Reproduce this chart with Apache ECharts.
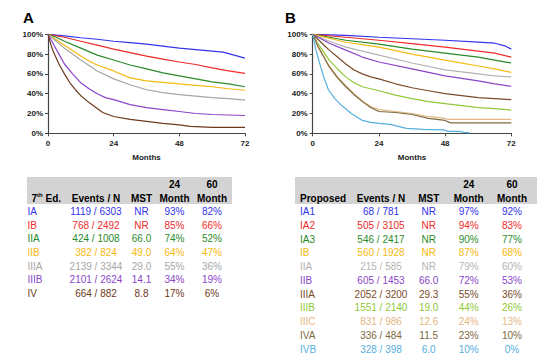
<!DOCTYPE html>
<html><head><meta charset="utf-8">
<script src="https://cdn.jsdelivr.net/npm/echarts@6/dist/echarts.min.js"></script>
<style>html,body{margin:0;padding:0;background:#fff}#c{width:554px;height:361px}</style>
</head><body><div id="c"></div>
<script>
// ---- Panel A survival curves (month, % surviving) ----
const A_IA   = [[0,100],[6,98.5],[12,96.5],[18,95],[24,93],[30,91.5],[36,90],[42,88],[48,86],[54,84.5],[60,83],[64,82],[68,79],[72,76]];
const A_IB   = [[0,100],[6,97],[12,93],[18,89],[24,85],[30,81.5],[36,78],[42,75],[48,72],[54,69.5],[60,66],[66,63],[72,60.5]];
const A_IIA  = [[0,100],[3,97],[6,93],[12,86],[18,79],[24,74],[30,69],[36,65],[42,61],[48,58],[54,55],[60,52],[66,50],[72,47]];
const A_IIB  = [[0,100],[6,89],[12,78],[15,73],[18,69],[24,63],[30,56],[36,53],[42,51.5],[48,50],[54,48.5],[60,47],[66,45],[72,43.5]];
const A_IIIA = [[0,100],[3,93],[6,86],[12,74],[18,63],[24,55],[30,49],[36,44],[42,41],[48,39],[54,37.5],[60,36],[66,35],[72,33.5]];
const A_IIIB = [[0,100],[2,90],[4,80],[6,70],[9,60],[12,51],[15,45],[18,40],[21,36],[24,34],[30,29],[36,26],[42,24],[48,22],[54,20],[60,19],[66,18.5],[72,18]];
const A_IV   = [[0,100],[1,90],[2,82],[4,70],[6,60],[8,51],[10,44],[12,38],[15,31],[18,25],[20,21],[22,19],[24,17],[30,14],[36,12],[42,10],[48,8.5],[52,7],[60,6],[72,6]];

// ---- Panel B survival curves ----
const B_IA1  = [[0,100],[12,99],[24,97],[36,95.5],[48,94],[60,92],[66,91],[70,88],[72,85]];
const B_IA2  = [[0,100],[12,97],[24,94],[36,90.5],[48,87],[60,83],[66,81],[72,77]];
const B_IA3  = [[0,100],[6,97],[12,94],[24,90],[36,85],[48,81],[60,77],[66,74],[72,71]];
const B_IB   = [[0,100],[6,96],[12,92],[24,87],[36,80],[48,74],[60,68],[66,65],[72,61.5]];
const B_IIA  = [[0,100],[6,93],[12,87],[18,83],[24,79],[36,71],[48,64],[60,60],[66,58],[72,57]];
const B_IIB  = [[0,100],[6,91],[12,84],[18,77],[24,72],[36,65],[48,58],[60,53],[66,50],[72,47.5]];
const B_IIIA = [[0,100],[3,92],[6,84],[9,77],[12,70],[15,64],[18,60],[21,57],[24,55],[30,50],[36,46],[42,43],[48,40],[54,38],[60,36],[66,35],[72,34]];
const B_IIIB = [[0,100],[2,90],[4,82],[6,74],[9,65],[12,57],[15,51],[18,47],[24,43],[30,38.5],[36,35],[42,32],[48,30],[54,28],[60,26],[66,25],[72,23.5]];
const B_IIIC = [[0,100],[2,88],[4,78],[6,68],[9,57],[12,48],[15,40],[18,33],[21,27],[24,24],[30,22],[36,20],[42,17],[48,15],[49,14],[72,14]];
const B_IVA  = [[0,100],[2,87],[4,77],[6,67],[9,56],[12,47],[15,39],[18,32],[21,26],[24,22],[30,21],[36,19],[42,15],[48,13],[50,10.5],[72,10.5]];
const B_IVB  = [[0,100],[0.5,93],[1,86],[2,76],[3,66],[4,57],[5.7,44],[8,35],[10.5,28],[14,20],[18,13],[21,11],[24,10],[28,9],[31,7],[34,5],[40,4],[47.5,3.5],[49,2],[53,2],[55,1],[57,0.5]];

// ---- Axis ticks ----
const xTicks = [0, 24, 48, 72];
const yTicks = [0, 20, 40, 60, 80, 100];

// ---- Table A ----
const stagesA = ['IA','IB','IIA','IIB','IIIA','IIIB','IV'];
const eventsA = ['1119 / 6303','768 / 2492','424 / 1008','382 / 824','2139 / 3344','2101 / 2624','664 / 882'];
const mstA    = ['NR','NR','66.0','49.0','29.0','14.1','8.8'];
const m24A    = ['93%','85%','74%','64%','55%','34%','17%'];
const m60A    = ['82%','66%','52%','47%','36%','19%','6%'];

// ---- Table B ----
const stagesB = ['IA1','IA2','IA3','IB','IIA','IIB','IIIA','IIIB','IIIC','IVA','IVB'];
const eventsB = ['68 / 781','505 / 3105','546 / 2417','560 / 1928','215 / 585','605 / 1453','2052 / 3200','1551 / 2140','831 / 986','336 / 484','328 / 398'];
const mstB    = ['NR','NR','NR','NR','NR','66.0','29.3','19.0','12.6','11.5','6.0'];
const m24B    = ['97%','94%','90%','87%','79%','72%','55%','44%','24%','23%','10%'];
const m60B    = ['92%','83%','77%','68%','60%','53%','36%','26%','13%','10%','0%'];

// ---- styles ----
const colorsA = ['#3333ee','#ee2b2b','#2a8a2a','#f5b90f','#a6a6a6','#8a45c8','#6e3a1c'];
const colorsB = ['#3333ee','#ee2b2b','#2a8a2a','#f5b90f','#b4b4b4','#8a45c8','#7a4a2a','#8fc93a','#e2b883','#7d6a40','#55b0de'];
const curvesA = [A_IA,A_IB,A_IIA,A_IIB,A_IIIA,A_IIIB,A_IV];
const curvesB = [B_IA1,B_IA2,B_IA3,B_IB,B_IIA,B_IIB,B_IIIA,B_IIIB,B_IIIC,B_IVA,B_IVB];

const FONT = '"Liberation Sans", Arial, sans-serif';
const axisCol = '#444';

function xAx(gi){
  return {gridIndex:gi,type:'value',min:0,max:72,interval:24,
    axisLine:{lineStyle:{color:axisCol,width:1.2}},
    axisTick:{show:true,length:3,lineStyle:{color:axisCol}},
    splitLine:{show:false},
    axisLabel:{margin:6,color:'#222',fontWeight:'bold',fontSize:8,fontFamily:FONT},
    name:'Months',nameLocation:'middle',nameGap:20,
    nameTextStyle:{color:'#222',fontWeight:'bold',fontSize:8,fontFamily:FONT}};
}
function yAx(gi){
  return {gridIndex:gi,type:'value',min:0,max:100,interval:20,
    axisLine:{show:true,lineStyle:{color:axisCol,width:1.2}},
    axisTick:{show:true,length:3,lineStyle:{color:axisCol}},
    splitLine:{show:false},
    axisLabel:{margin:5,formatter:'{value}%',color:'#222',fontWeight:'bold',fontSize:8,fontFamily:FONT}};
}

const series = [];
curvesA.forEach((d,i)=>series.push({type:'line',xAxisIndex:0,yAxisIndex:0,data:d,showSymbol:false,silent:true,
  lineStyle:{color:colorsA[i],width:1.2},itemStyle:{color:colorsA[i]}}));
curvesB.forEach((d,i)=>series.push({type:'line',xAxisIndex:1,yAxisIndex:1,data:d,showSymbol:false,silent:true,
  lineStyle:{color:colorsB[i],width:1.2},itemStyle:{color:colorsB[i]}}));

// ---- tables as graphic elements ----
const graphic = [];
function txt(x,y,text,opts){
  graphic.push({type:'text',silent:true,style:Object.assign({x:x,y:y,text:text,
    font:'10px '+FONT,fill:'#000',textAlign:'center',textVerticalAlign:'middle'},opts||{})});
}
function table(cfg){
  graphic.push({type:'rect',silent:true,shape:{x:cfg.left,y:177,width:cfg.width,height:27},style:{fill:'#d3d3d3'}});
  const hb = 'bold 10px '+FONT;
  txt(cfg.cols[3],184.5,'24',{font:hb});
  txt(cfg.cols[4],184.5,'60',{font:hb});
  txt(cfg.cols[1],198,'Events / N',{font:hb});
  txt(cfg.cols[2],198,'MST',{font:hb});
  txt(cfg.cols[3],198,'Month',{font:hb});
  txt(cfg.cols[4],198,'Month',{font:hb});
  cfg.header();
  cfg.stages.forEach((s,i)=>{
    const y = 211.7 + i*cfg.step;
    const c = cfg.colors[i];
    txt(cfg.stageX,y,s,{fill:c,textAlign:'left'});
    txt(cfg.cols[1],y,cfg.events[i],{fill:c});
    txt(cfg.cols[2],y,cfg.mst[i],{fill:c});
    txt(cfg.cols[3],y,cfg.m24[i],{fill:c});
    txt(cfg.cols[4],y,cfg.m60[i],{fill:c});
  });
}
table({left:27,width:205,stageX:27.5,cols:[0,96,141.5,174.5,212],step:13.6,
  stages:stagesA,events:eventsA,mst:mstA,m24:m24A,m60:m60A,colors:colorsA,
  header:function(){
    graphic.push({type:'text',silent:true,style:{x:31.5,y:198,text:'{b|7}{s|th}{b| Ed.}',
      textAlign:'left',textVerticalAlign:'middle',
      rich:{b:{fontWeight:'bold',fontSize:10,fontFamily:FONT,fill:'#000',color:'#000',lineHeight:12},
            s:{fontWeight:'bold',fontSize:6,fontFamily:FONT,fill:'#000',color:'#000',verticalAlign:'top',lineHeight:12,padding:[0,0,4,0]}}}});
  }});
table({left:295,width:242,stageX:300,cols:[0,381,428.7,468.7,512],step:13.73,
  stages:stagesB,events:eventsB,mst:mstB,m24:m24B,m60:m60B,colors:colorsB,
  header:function(){ txt(300,198,'Proposed',{font:'bold 10px '+FONT,textAlign:'left'}); }});

// panel letters
txt(23,17,'A',{font:'bold 15px '+FONT,textAlign:'left'});
txt(285,17,'B',{font:'bold 15px '+FONT,textAlign:'left'});

const chart = echarts.init(document.getElementById('c'),null,{renderer:'svg',width:554,height:361});
chart.setOption({
  animation:false,
  backgroundColor:'#fff',
  grid:[{left:48,top:34.3,width:197,height:99,containLabel:false},
        {left:312.7,top:34.3,width:198.6,height:99,containLabel:false}],
  xAxis:[xAx(0),xAx(1)],
  yAxis:[yAx(0),yAx(1)],
  series:series,
  graphic:graphic
});
</script></body></html>
